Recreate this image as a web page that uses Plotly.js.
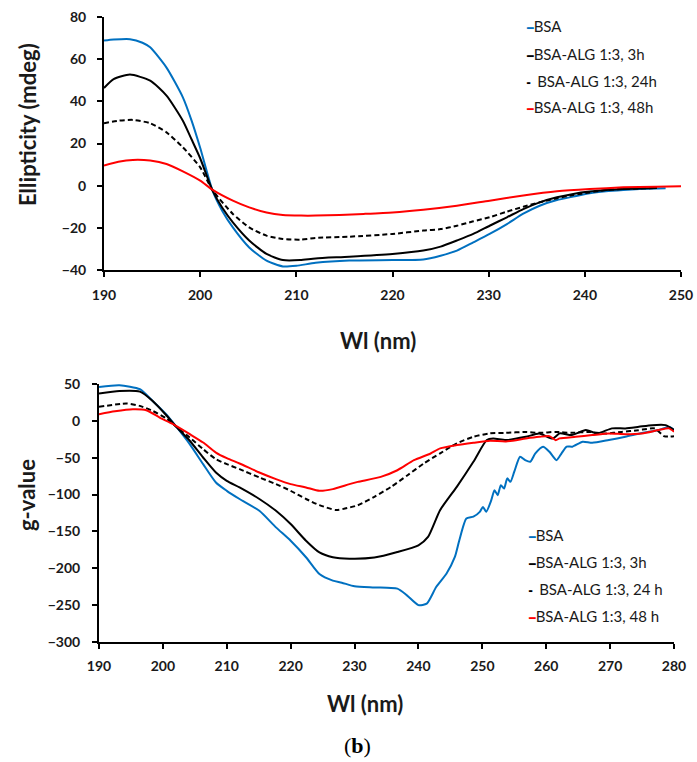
<!DOCTYPE html>
<html>
<head>
<meta charset="utf-8">
<script src="https://cdn.plot.ly/plotly-3.0.1.min.js"></script>
<style>html,body{margin:0;padding:0;background:#fff;}#chart{width:697px;height:762px;}</style>
</head>
<body>
<div id="chart"></div>
<script>
// ---------- Data ----------
const seriesNamesTop = ["BSA", "BSA-ALG 1:3, 3h", "BSA-ALG 1:3, 24h", "BSA-ALG 1:3, 48h"];
const seriesNamesBottom = ["BSA", "BSA-ALG 1:3, 3h", "BSA-ALG 1:3, 24 h", "BSA-ALG 1:3, 48 h"];

// Top panel: Ellipticity (mdeg) vs wavelength (nm)
const topBsaX = [190, 191, 192.7, 194, 194.8, 196.5, 198.2, 199.1, 200, 201.3, 202.3, 203.4, 205.1, 206.9, 208.6, 210, 212, 215.5, 220, 223.2, 225, 226.7, 228.4, 230.1, 231.9, 233.6, 235.3, 237.1, 238.8, 240.5, 242.2, 244, 245.7, 247.4, 248.4];
const topBsaY = [68.8, 69.3, 69.5, 67.8, 65.6, 56, 41.9, 31, 18, -2.5, -12, -19.8, -29.3, -35.6, -38.3, -38, -36.6, -35.5, -35.3, -35, -33.2, -30.8, -26.9, -22.9, -18.2, -13.3, -9.5, -6.8, -5.2, -3.6, -2.7, -2.1, -1.6, -1.3, -1.2];

const top3hX = [190, 191, 192.7, 194.8, 196.5, 198.2, 199.1, 200, 201.3, 202.3, 203.4, 205.1, 206.9, 208.6, 210.4, 212, 215.5, 220, 223.2, 225, 226.7, 228.4, 230.1, 231.9, 233.6, 235.3, 237.1, 238.8, 240.5, 242.2, 244, 245.7, 247.5];
const top3hY = [46.3, 50.5, 52.7, 49.8, 42.7, 30.8, 22, 13, -2.5, -10.5, -17.4, -26, -32.4, -35.3, -35.3, -34.5, -33.7, -32.4, -30.8, -28.9, -26, -22.9, -19, -15, -11.1, -7.9, -5.5, -3.9, -2.8, -2.1, -1.6, -1.3, -1.1];

const top24hX = [190, 191.5, 193, 194.8, 196.5, 198.2, 200, 201.3, 203.4, 205.1, 206.9, 208.6, 210.4, 212, 215.5, 220, 223.2, 225, 226.7, 228.4, 230.1, 231.9, 233.6, 235.3, 237.1, 238.8, 240.5, 242.2, 244, 245.7, 247.5];
const top24hY = [29.6, 30.8, 31.2, 29.6, 25.3, 18.2, 8.7, -2.2, -13.4, -19.8, -23.7, -25.3, -25.6, -24.8, -24.2, -22.9, -21.3, -20.6, -19, -16.9, -15, -12.3, -10, -7.9, -6, -4.4, -3.2, -2.1, -1.6, -1.3, -1.1];

const top48hX = [190, 191.5, 193, 194.8, 196.5, 198.2, 200, 201.3, 203.4, 205.1, 206.9, 208.6, 210.5, 212, 214.5, 217, 220, 223.2, 226.7, 230.1, 233.6, 237.1, 240.5, 244, 247.4, 250];
const top48hY = [9.5, 11.3, 12.2, 11.9, 10.3, 6.8, 2.4, -2.0, -7.1, -10.3, -12.7, -13.9, -14.2, -14.2, -13.9, -13.4, -12.7, -11.4, -9.5, -7.1, -4.7, -2.7, -1.6, -0.8, -0.5, -0.3];

// Bottom panel: g-value vs wavelength (nm)
const botBsaX = [190, 193.2, 196.4, 198.4, 200.5, 202.1, 204.2, 206.3, 208.3, 210, 212, 215.1, 217.7, 220, 222.4, 224.5, 226.6, 228, 230, 233.1, 236.7, 238.2, 240, 241.3, 242.8, 244.4, 245.7, 246.4, 247.5, 248.6, 249.6, 250.1, 250.6, 251.4, 251.9, 252.4, 252.9, 253.4, 253.9, 254.4, 255, 255.9, 256.7, 257.5, 258.3, 259.5, 260.5, 261.6, 262.4, 263.2, 264.1, 265.7, 267.2, 269.8, 272.4, 275, 277.6, 279.2, 280];
const botBsaY = [46, 48.3, 42.9, 27, 9, -8, -31.6, -58.7, -83.6, -94.9, -106, -122, -144.5, -162.6, -185, -207.8, -216.8, -219.5, -224.4, -226, -227.6, -236.7, -250, -248, -225, -207, -184.6, -162, -132.5, -130, -123.4, -116.7, -123.4, -107.6, -94, -100.8, -87.2, -91.8, -78, -82.7, -69, -48.7, -53.3, -55.5, -44.2, -35.2, -42, -53.3, -44, -35, -35, -28.4, -29.8, -26, -21.6, -16.5, -12.5, -8, -12];

const bot3hX = [190, 193.2, 196.4, 198.4, 200.5, 202.1, 204.2, 206.3, 208.3, 210, 212, 215.1, 217.7, 220, 222.4, 224.5, 226.6, 229.2, 233.1, 236.7, 240, 241.5, 243.4, 246, 248.6, 250.7, 251.7, 253.7, 256.8, 258.9, 261, 262.1, 264, 266.2, 268, 270.3, 272.4, 274.5, 276.6, 278.7, 280];
const bot3hY = [37, 40.6, 39.7, 27, 8, -8, -27, -49.7, -70, -81.3, -90.3, -106, -122, -140, -162.6, -178.5, -185, -187, -185.5, -178, -168.8, -157.5, -121, -89.5, -55.5, -26, -24, -26, -21.7, -17.2, -24, -17, -19.3, -12.5, -17, -10.2, -10.2, -8, -5.8, -5.8, -12.5];

const bot24hX = [190, 194.3, 196.4, 198.4, 200.5, 202.1, 204.2, 206.3, 208.3, 210, 212, 215.1, 217.7, 220, 222.4, 224.5, 227.1, 228.5, 230.5, 233.1, 235.7, 238.3, 240.8, 243.4, 246, 248.6, 251.2, 253.7, 256.8, 258.9, 261.5, 264, 266.6, 269.2, 271.8, 274.4, 277, 278.5, 280];
const bot24hY = [19, 23.5, 20.3, 13.5, 3.6, -8, -22.6, -38.4, -52, -58.7, -65.5, -76.8, -85.8, -94.9, -106, -114.3, -121, -119, -114.5, -103, -89.6, -73.8, -58, -44, -30.6, -21.6, -17, -16.3, -15, -16.3, -15, -16.3, -15, -17.2, -15, -12.7, -10.4, -21, -20.8];

const bot48hX = [190, 192.5, 195.3, 197.4, 199.5, 201.6, 204.2, 206.3, 208.3, 210, 212, 215.1, 217.7, 220, 222.4, 224.5, 226.6, 229.2, 230.5, 234.1, 236.7, 239.3, 241.9, 243.4, 246, 248.6, 251.2, 253.7, 256.8, 258.9, 260.5, 261.5, 262.1, 264.6, 267.2, 269.8, 272.4, 275, 277.6, 279.2, 280];
const bot48hY = [9, 13, 15.8, 14.5, 4.5, -4.5, -18, -29.4, -43, -50.6, -57.8, -70, -79, -85.8, -90.3, -94.9, -92.6, -85.8, -82.8, -76, -67, -53.4, -44.3, -37.4, -32.9, -29.7, -27, -28, -24, -21.7, -20.7, -26.2, -23.8, -21.6, -19.3, -17, -18, -17, -12.5, -10.2, -14.7];

const topXTicks = [190, 200, 210, 220, 230, 240, 250];
const topYTicks = [-40, -20, 0, 20, 40, 60, 80];
const botXTicks = [190, 200, 210, 220, 230, 240, 250, 260, 270, 280];
const botYTicks = [-300, -250, -200, -150, -100, -50, 0, 50];

const xTitle = "Wl (nm)";
const topYTitle = "Ellipticity (mdeg)";
const botYTitle = "g-value";
const caption = "(<b>b</b>)";

// ---------- Styles ----------
const colors = ["#0070C0", "#000000", "#000000", "#FF0000"];
const dashes = ["solid", "solid", "5px,3px", "solid"];
const W = 697, H = 762;

function tr(x, y, i, xa, ya, name) {
  return {
    x: x, y: y, name: name, xaxis: xa, yaxis: ya, type: "scatter", mode: "lines",
    line: {color: colors[i], width: 2, dash: dashes[i], shape: "spline", smoothing: 0.6},
    showlegend: false, hoverinfo: "x+y+name"
  };
}

const data = [
  tr(topBsaX, topBsaY, 0, "x", "y", seriesNamesTop[0]),
  tr(top3hX, top3hY, 1, "x", "y", seriesNamesTop[1]),
  tr(top24hX, top24hY, 2, "x", "y", seriesNamesTop[2]),
  tr(top48hX, top48hY, 3, "x", "y", seriesNamesTop[3]),
  tr(botBsaX, botBsaY, 0, "x2", "y2", seriesNamesBottom[0]),
  tr(bot3hX, bot3hY, 1, "x2", "y2", seriesNamesBottom[1]),
  tr(bot24hX, bot24hY, 2, "x2", "y2", seriesNamesBottom[2]),
  tr(bot48hX, bot48hY, 3, "x2", "y2", seriesNamesBottom[3])
];

const tickFont = {family: "Lato, 'DejaVu Sans', sans-serif", size: 14, weight: "bold", color: "#1a1a1a"};
const axisBase = {
  showline: true, linecolor: "#000", linewidth: 2, mirror: false,
  showgrid: false, zeroline: false,
  ticks: "outside", ticklen: 5, tickwidth: 2, tickcolor: "#000",
  tickfont: tickFont, tickmode: "array", fixedrange: true
};

const layout = {
  width: W, height: H,
  margin: {l: 0, r: 0, t: 0, b: 0},
  paper_bgcolor: "#fff", plot_bgcolor: "#fff",
  showlegend: false,
  xaxis: Object.assign({}, axisBase, {domain: [104 / W, 681 / W], range: [190, 250], tickvals: topXTicks, anchor: "y", ticklabelstandoff: 6}),
  yaxis: Object.assign({}, axisBase, {domain: [1 - 270 / H, 1 - 17 / H], range: [-40, 80], tickvals: topYTicks, anchor: "x", ticklabelstandoff: 8}),
  xaxis2: Object.assign({}, axisBase, {domain: [99 / W, 674 / W], range: [190, 280], tickvals: botXTicks, anchor: "y2", ticklabelstandoff: 5}),
  yaxis2: Object.assign({}, axisBase, {domain: [1 - 642 / H, 1 - 384 / H], range: [-300, 50], tickvals: botYTicks, anchor: "x2", ticklabelstandoff: 9}),
  annotations: []
};

const titleFont = {family: "Lato, 'DejaVu Sans', sans-serif", size: 22, weight: "bold", color: "#1a1a1a"};
function ann(text, px, py, extra) {
  return Object.assign({
    text: text, xref: "paper", yref: "paper", x: px / W, y: 1 - py / H,
    xanchor: "center", yanchor: "middle", showarrow: false, font: titleFont
  }, extra || {});
}
layout.annotations.push(ann(xTitle, 378, 340));
layout.annotations.push(ann(xTitle, 365, 703));
layout.annotations.push(ann(topYTitle, 27, 125, {textangle: -90}));
layout.annotations.push(ann(botYTitle, 27, 495, {textangle: -90}));
layout.annotations.push(ann(caption, 357, 745, {font: {family: "'Liberation Serif', 'DejaVu Serif', serif", size: 22, color: "#000"}}));

// Legends (Excel-style short line keys)
const legFont = {family: "Lato, 'DejaVu Sans', sans-serif", size: 15, color: "#1a1a1a"};
const legKey = ["━", "━", "╸ ", "━"];
function legend(names, px, rows) {
  names.forEach((n, i) => {
    layout.annotations.push(ann('<span style="color:' + colors[i] + ';font-family:\'DejaVu Sans\';font-size:11px">' + legKey[i] + '</span>' + n, px, rows[i], {xanchor: "left", font: legFont}));
  });
}
legend(seriesNamesTop, 524, [26, 54, 81, 107]);
legend(seriesNamesBottom, 526, [535, 562, 589, 616]);

Plotly.newPlot("chart", data, layout, {displayModeBar: false, staticPlot: true});
</script>
</body>
</html>
